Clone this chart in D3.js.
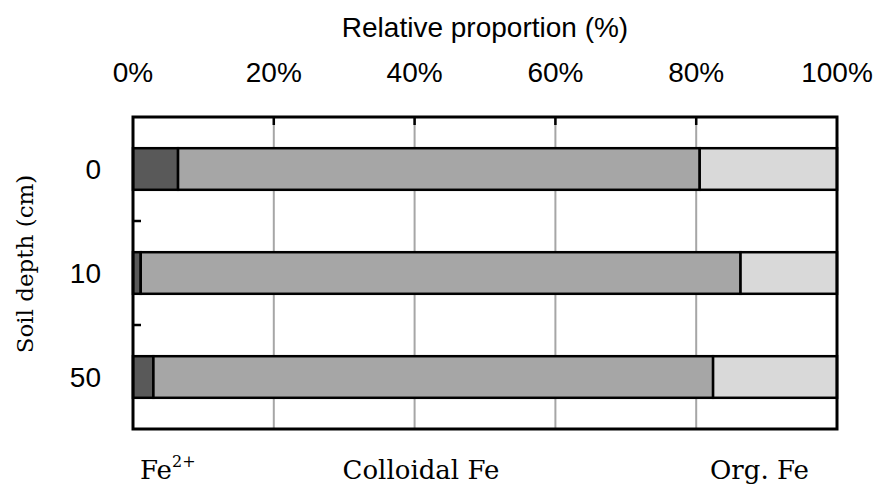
<!DOCTYPE html>
<html>
<head>
<meta charset="utf-8">
<script src="https://cdn.jsdelivr.net/npm/d3@7"></script>
<style>
  body { margin: 0; background: #fff; }
  .sans { font-family: "Liberation Sans", Arial, sans-serif; fill: #000; }
  .serif { font-family: "DejaVu Serif", serif; fill: #000; }
</style>
</head>
<body>
<svg id="chart" width="877" height="490"></svg>
<script>
// soil depths (cm) and relative proportions (%) of the three Fe pools
const depths = ["0", "10", "50"];
const fe2 = [6.4, 1.1, 2.9];
const colloidal = [74.1, 85.2, 79.5];
const orgFe = [19.5, 13.7, 17.6];
const xTicks = [0, 20, 40, 60, 80, 100];

const seriesKeys = ["fe2", "colloidal", "org"];
const colors = { fe2: "#595959", colloidal: "#a6a6a6", org: "#d9d9d9" };

const rows = depths.map((d, i) => ({ depth: d, fe2: fe2[i], colloidal: colloidal[i], org: orgFe[i] }));
const stacked = d3.stack().keys(seriesKeys)(rows);

const svg = d3.select("#chart");
const plotL = 133, plotR = 837, plotT = 117, plotB = 429;

const x = d3.scaleLinear().domain([0, 100]).range([plotL, plotR]);
const y = d3.scaleBand().domain(depths).range([plotT, plotB]).paddingInner(0.6).paddingOuter(0.3);
const band = d3.scaleBand().domain(depths).range([plotT, plotB]);

// gridlines
svg.append("g")
  .selectAll("line")
  .data(xTicks.slice(1, -1))
  .join("line")
  .attr("x1", d => x(d)).attr("x2", d => x(d))
  .attr("y1", plotT).attr("y2", plotB)
  .attr("stroke", "#a6a6a6")
  .attr("stroke-width", 2);

// top axis labels
svg.append("g")
  .selectAll("text")
  .data(xTicks)
  .join("text")
  .attr("class", "sans")
  .attr("x", d => x(d))
  .attr("y", 82)
  .attr("text-anchor", "middle")
  .attr("font-size", 28)
  .text(d => d + "%");

svg.append("text")
  .attr("class", "sans")
  .attr("x", 485)
  .attr("y", 37)
  .attr("text-anchor", "middle")
  .attr("font-size", 28)
  .text("Relative proportion (%)");

// stacked bars
svg.append("g")
  .selectAll("g")
  .data(stacked)
  .join("g")
  .attr("fill", s => colors[s.key])
  .selectAll("rect")
  .data(s => s)
  .join("rect")
  .attr("x", d => x(d[0]))
  .attr("width", d => x(d[1]) - x(d[0]))
  .attr("y", d => y(d.data.depth))
  .attr("height", y.bandwidth())
  .attr("stroke", "#000")
  .attr("stroke-width", 2.5);

// frame
svg.append("rect")
  .attr("x", plotL).attr("y", plotT)
  .attr("width", plotR - plotL).attr("height", plotB - plotT)
  .attr("fill", "none")
  .attr("stroke", "#000")
  .attr("stroke-width", 3);

// inward ticks on top
svg.append("g")
  .selectAll("line")
  .data(xTicks.slice(1, -1))
  .join("line")
  .attr("x1", d => x(d)).attr("x2", d => x(d))
  .attr("y1", plotT).attr("y2", plotT + 8)
  .attr("stroke", "#000").attr("stroke-width", 2.5);

// inward ticks on the left between categories
svg.append("g")
  .selectAll("line")
  .data(depths.slice(1))
  .join("line")
  .attr("x1", plotL).attr("x2", plotL + 8)
  .attr("y1", d => band(d)).attr("y2", d => band(d))
  .attr("stroke", "#000").attr("stroke-width", 2.5);

// y labels
svg.append("g")
  .selectAll("text")
  .data(depths)
  .join("text")
  .attr("class", "sans")
  .attr("x", 101)
  .attr("y", d => y(d) + y.bandwidth() / 2)
  .attr("dy", "0.36em")
  .attr("text-anchor", "end")
  .attr("font-size", 28)
  .text(d => d);

svg.append("text")
  .attr("class", "serif")
  .attr("transform", "translate(33,264) rotate(-90)")
  .attr("text-anchor", "middle")
  .attr("font-size", 23)
  .text("Soil depth (cm)");

// series labels under the plot
const lab1 = svg.append("text").attr("class", "serif").attr("x", 140).attr("y", 479).attr("font-size", 26);
lab1.append("tspan").text("Fe");
lab1.append("tspan").attr("dy", -12).attr("font-size", 16).text("2+");

svg.append("text").attr("class", "serif")
  .attr("x", 421).attr("y", 479).attr("text-anchor", "middle").attr("font-size", 26)
  .text("Colloidal Fe");

svg.append("text").attr("class", "serif")
  .attr("x", 710).attr("y", 479).attr("font-size", 26)
  .text("Org. Fe");
</script>
</body>
</html>
